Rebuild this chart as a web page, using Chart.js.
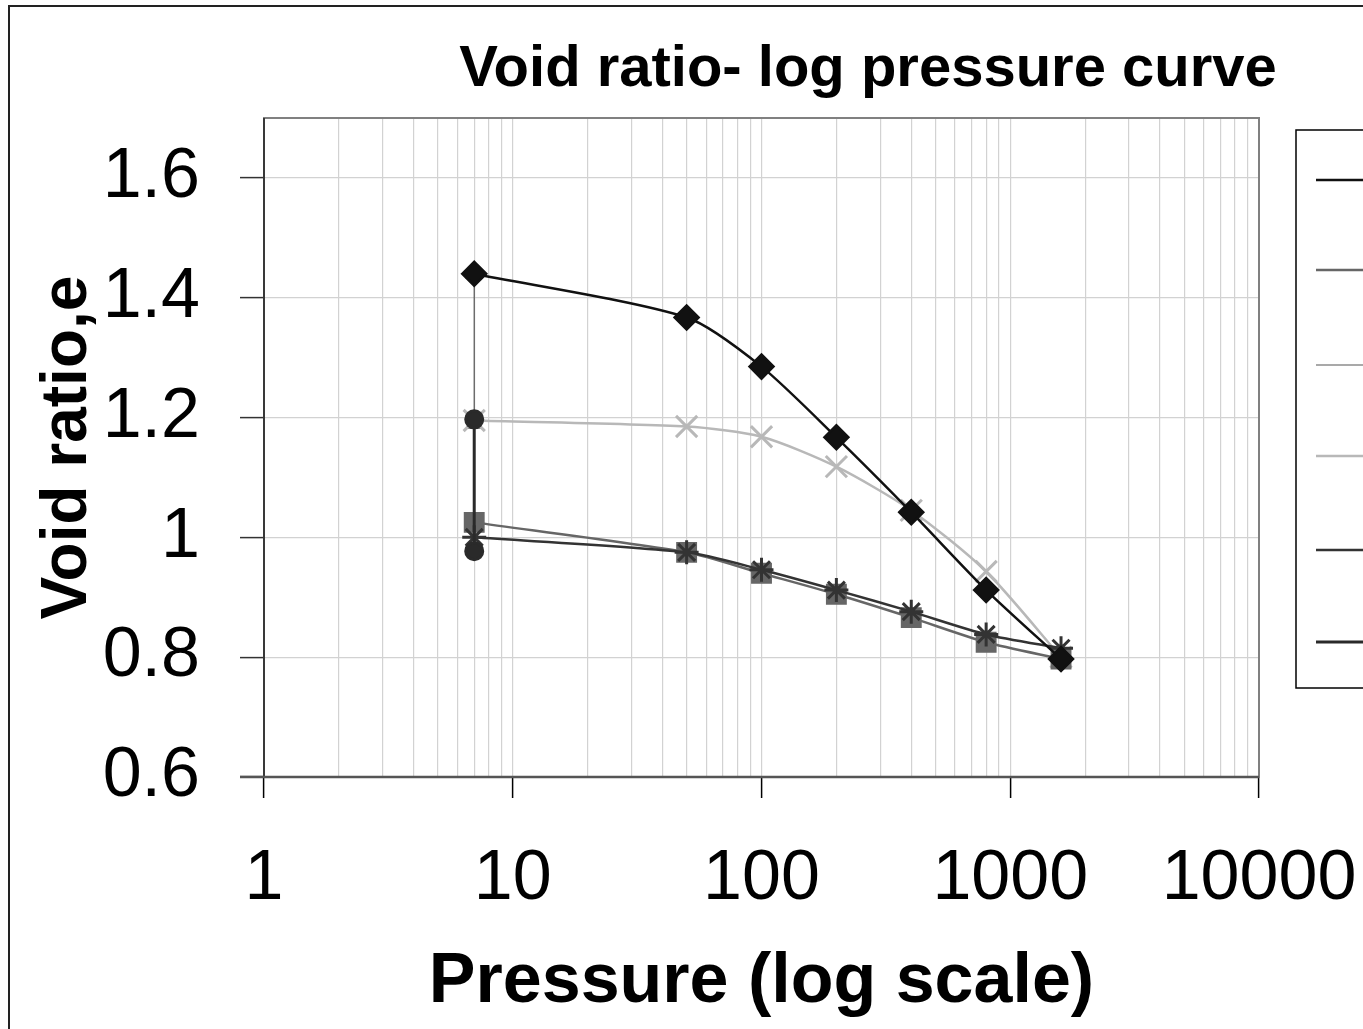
<!DOCTYPE html>
<html>
<head>
<meta charset="utf-8">
<script src="https://cdn.jsdelivr.net/npm/chart.js@4"></script>
<style>
  html, body { margin: 0; padding: 0; overflow: hidden; background: #fff; }
  #wrap { width: 1500px; height: 1029px; }
</style>
</head>
<body>
<div id="wrap"><canvas id="grafico" width="1500" height="1029"></canvas></div>
<script>
// dados
var pressoes = [7, 50, 100, 200, 400, 800, 1600];
var serieDiamante = [1.44, 1.367, 1.285, 1.167, 1.042, 0.912, 0.797];
var serieQuadrado = [1.025, 0.975, 0.94, 0.905, 0.866, 0.825, 0.797];
var serieXis = [1.195, 1.185, 1.168, 1.118, 1.045, 0.943, 0.80];
var serieEstrela = [1.0, 0.975, 0.946, 0.912, 0.876, 0.838, 0.815];
var triPressoes = [7, 7];
var serieTriangulo = [1.44, 1.19];
var circPressoes = [7, 7];
var serieCirculo = [1.197, 0.977];

var ticksX = [];
for (var d = 1; d < 10000; d *= 10) {
  for (var k = 1; k < 10; k++) ticksX.push(d * k);
}
ticksX.push(10000);
var ticksY = [0.6, 0.8, 1.0, 1.2, 1.4, 1.6];

function pontos(xs, ys) {
  return ys.map(function (v, i) { return { x: xs[i], y: v }; });
}
function ehPotencia(v) {
  var l = Math.log10(v);
  return Math.abs(l - Math.round(l)) < 1e-9;
}

// moldura, borda da área e legenda (texto da legenda fica cortado como no original)
var moldura = {
  id: 'moldura',
  beforeDatasetsDraw: function (chart) {
    var ctx = chart.ctx, a = chart.chartArea;
    ctx.save();
    ctx.strokeStyle = '#808080';
    ctx.lineWidth = 2;
    ctx.strokeRect(a.left, a.top, a.right - a.left, a.bottom - a.top);
    ctx.strokeStyle = '#222';
    ctx.lineWidth = 1.5;
    ctx.beginPath();
    ctx.moveTo(a.left, a.top);
    ctx.lineTo(a.left, a.bottom);
    ctx.stroke();
    ctx.strokeStyle = '#555';
    ctx.lineWidth = 2.5;
    ctx.beginPath();
    ctx.moveTo(a.left - 24, a.bottom);
    ctx.lineTo(a.right, a.bottom);
    ctx.stroke();
    ctx.restore();
  },
  afterDraw: function (chart) {
    var ctx = chart.ctx;
    ctx.save();
    ctx.strokeStyle = '#222';
    ctx.lineWidth = 2;
    ctx.beginPath();
    ctx.moveTo(9, 1029);
    ctx.lineTo(9, 6);
    ctx.lineTo(1500, 6);
    ctx.stroke();
    // titulo
    ctx.fillStyle = '#000';
    ctx.font = 'bold 58px "Liberation Sans", Arial, sans-serif';
    ctx.textAlign = 'center';
    ctx.textBaseline = 'middle';
    ctx.fillText('Void ratio- log pressure curve', 868, 70);
    // legenda
    ctx.strokeStyle = '#000';
    ctx.lineWidth = 1.5;
    ctx.strokeRect(1296, 130, 300, 558);
    var ys = [180, 270, 365, 456, 550, 642];
    chart.data.datasets.forEach(function (ds, i) {
      ctx.strokeStyle = ds.borderColor;
      ctx.lineWidth = ds.borderWidth;
      ctx.beginPath();
      ctx.moveTo(1316, ys[i]);
      ctx.lineTo(1400, ys[i]);
      ctx.stroke();
      ctx.fillStyle = '#000';
      ctx.font = '30px "Liberation Sans", Arial, sans-serif';
      ctx.textAlign = 'left';
      ctx.fillText(ds.label, 1410, ys[i]);
    });
    ctx.restore();
  }
};

const config = {
  type: 'line',
  data: {
    datasets: [
      {
        label: 'Series1',
        data: pontos(pressoes, serieDiamante),
        borderColor: '#111',
        backgroundColor: '#111',
        borderWidth: 2.5,
        pointStyle: 'rectRot',
        pointRadius: 12,
        order: 1
      },
      {
        label: 'Series2',
        data: pontos(pressoes, serieQuadrado),
        borderColor: '#666',
        backgroundColor: '#666',
        borderWidth: 2.5,
        pointStyle: 'rect',
        pointRadius: 13,
        order: 3
      },
      {
        label: 'Series3',
        data: pontos(triPressoes, serieTriangulo),
        borderColor: '#555',
        backgroundColor: '#555',
        borderWidth: 1.2,
        pointStyle: 'triangle',
        pointRadius: 9,
        order: 5
      },
      {
        label: 'Series4',
        data: pontos(pressoes, serieXis),
        borderColor: '#b8b8b8',
        backgroundColor: '#b8b8b8',
        borderWidth: 2.5,
        pointBorderWidth: 3,
        pointStyle: 'crossRot',
        pointRadius: 15,
        order: 4
      },
      {
        label: 'Series5',
        data: pontos(pressoes, serieEstrela),
        borderColor: '#333',
        backgroundColor: '#333',
        borderWidth: 2.5,
        pointBorderWidth: 3,
        pointStyle: 'star',
        pointRadius: 12,
        order: 2
      },
      {
        label: 'Series6',
        data: pontos(circPressoes, serieCirculo),
        borderColor: '#2a2a2a',
        backgroundColor: '#2a2a2a',
        borderWidth: 3,
        pointStyle: 'circle',
        pointRadius: 8.5,
        order: 0
      }
    ]
  },
  options: {
    responsive: false,
    animation: false,
    tension: 0.25,
    layout: { padding: { left: 30, top: 118, right: 241, bottom: 0 } },
    plugins: {
      legend: { display: false },
      title: { display: false },
      tooltip: { enabled: false }
    },
    scales: {
      x: {
        type: 'logarithmic',
        min: 1,
        max: 10000,
        afterBuildTicks: function (s) {
          s.ticks = ticksX.map(function (v) { return { value: v, major: ehPotencia(v) }; });
        },
        afterFit: function (s) { s.height = 1029 - 777; },
        ticks: {
          autoSkip: false,
          maxRotation: 0,
          padding: 40,
          color: '#000',
          font: { size: 70, family: '"Liberation Sans", Arial, sans-serif' },
          callback: function (v) { return ehPotencia(v) ? String(v) : ''; }
        },
        grid: {
          color: '#d2d2d2',
          lineWidth: 1.2,
          tickLength: 21,
          tickColor: function (c) { return ehPotencia(c.tick.value) ? '#000' : 'rgba(0,0,0,0)'; },
          tickWidth: 1.5
        },
        border: { display: false },
        title: {
          display: true,
          text: 'Pressure (log scale)',
          color: '#000',
          font: { size: 70, weight: 'bold', family: '"Liberation Sans", Arial, sans-serif' },
          padding: { top: 0, bottom: 4 }
        }
      },
      y: {
        min: 0.6,
        max: 1.7,
        afterBuildTicks: function (s) {
          s.ticks = ticksY.map(function (v) { return { value: v }; });
        },
        afterFit: function (s) { s.width = 264 - 30; },
        ticks: {
          padding: 40,
          color: '#000',
          font: { size: 70, family: '"Liberation Sans", Arial, sans-serif' },
          callback: function (v) { return String(Math.round(v * 10) / 10); }
        },
        grid: {
          color: '#d2d2d2',
          lineWidth: 1.2,
          tickLength: 24,
          tickColor: '#333',
          tickWidth: 1.5
        },
        border: { display: false },
        title: {
          display: true,
          text: 'Void ratio,e',
          color: '#000',
          font: { size: 64, weight: 'bold', family: '"Liberation Sans", Arial, sans-serif' },
          padding: { top: 0, bottom: 0 }
        }
      }
    }
  },
  plugins: [moldura]
};

var meuGrafico = new Chart(document.getElementById('grafico'), config);
</script>
</body>
</html>
